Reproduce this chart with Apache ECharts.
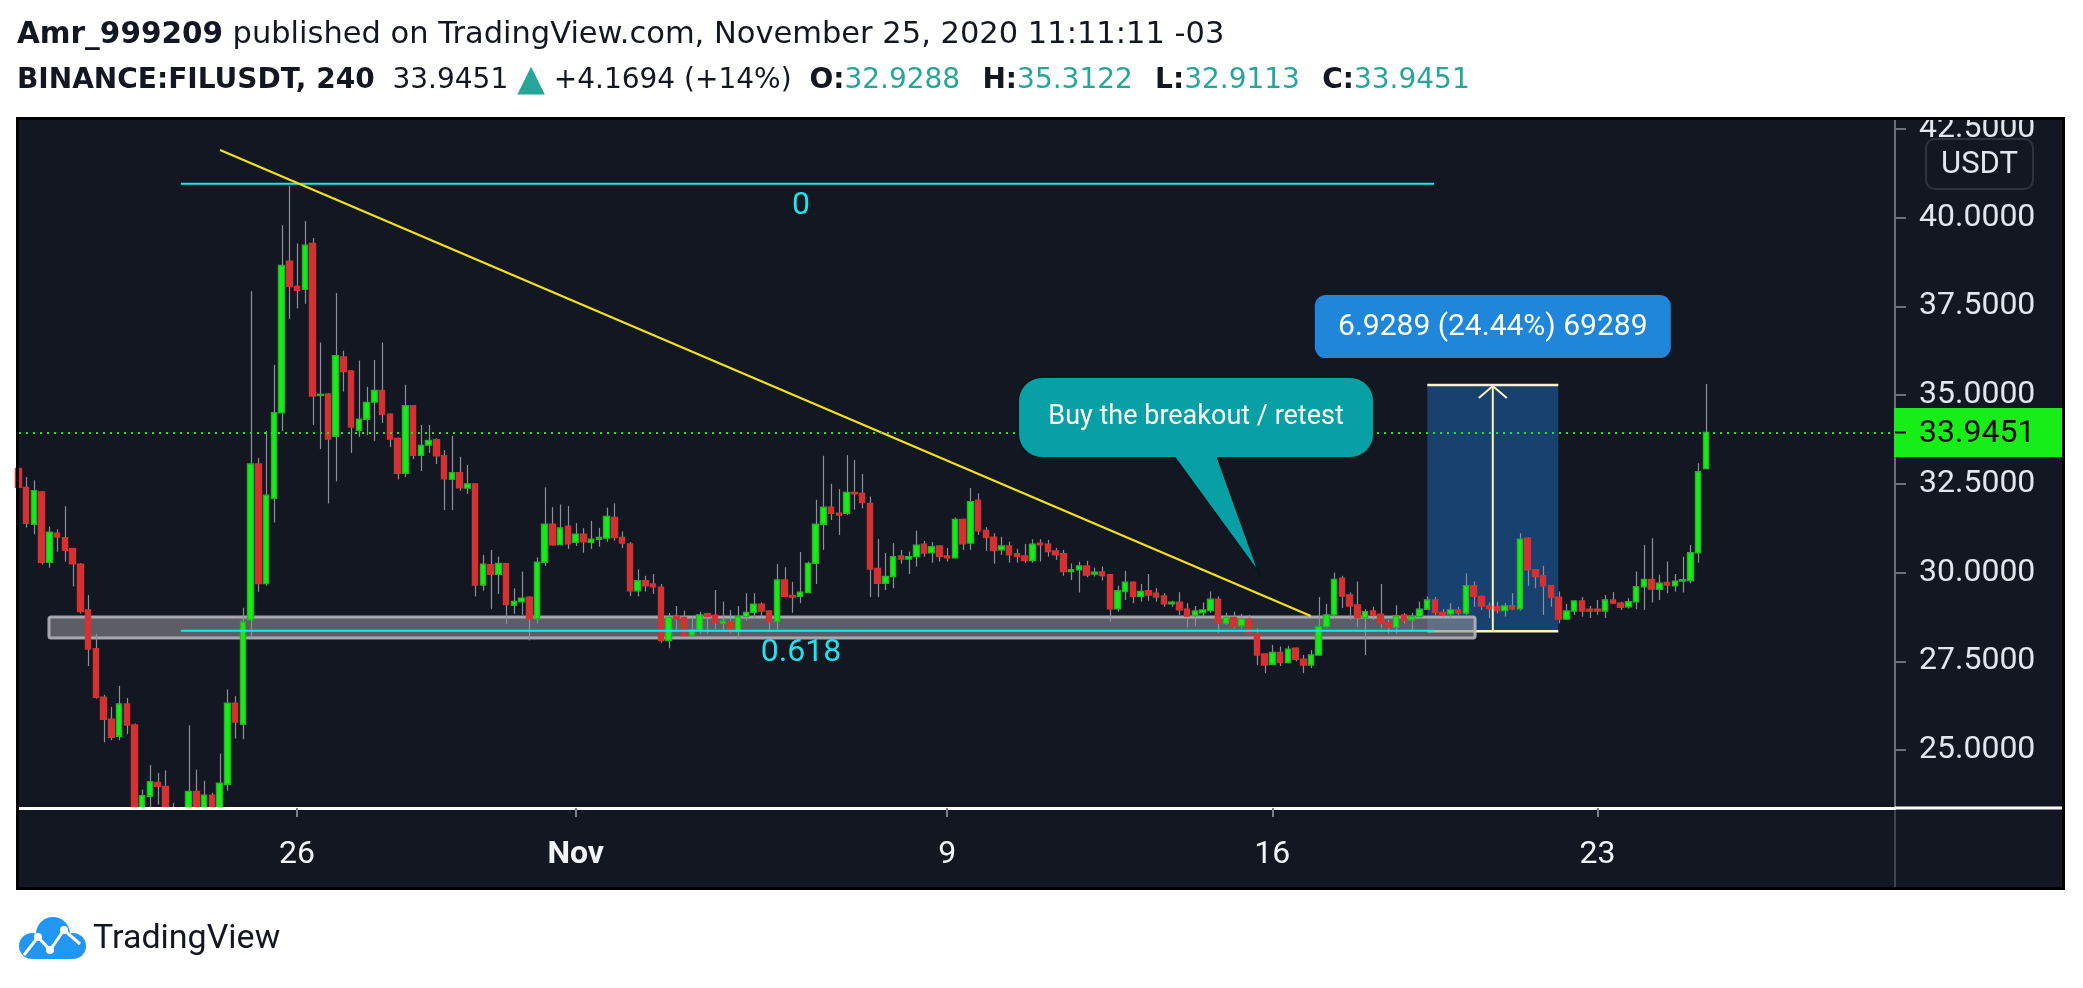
<!DOCTYPE html>
<html>
<head>
<meta charset="utf-8">
<script src="https://cdn.jsdelivr.net/npm/echarts@6.0.0/dist/echarts.min.js"></script>
<style>
html,body{margin:0;padding:0;background:#ffffff;overflow:hidden;}
#c{width:2083px;height:988px;}
</style>
</head>
<body>
<div id="c"></div>
<script>
// ---------------- DATA ----------------
// 4-hour candles, BINANCE:FILUSDT, first candle = 2020-10-20 00:00, x = hours since then
const candleStepHours = 4;
const opens = [32.93,32.40,31.36,32.27,30.29,31.11,30.98,30.67,30.24,28.95,27.86,26.49,25.87,25.39,26.30,25.71,23.00,23.70,24.09,23.98,
22.80,22.60,22.90,23.84,23.00,23.73,23.10,24.04,26.32,25.73,28.67,33.06,29.69,32.09,34.50,38.77,38.06,37.98,39.27,34.99,
35.03,33.84,36.07,35.68,34.01,34.32,34.80,35.13,34.46,33.78,32.80,34.70,33.30,33.59,33.74,33.29,32.63,32.81,32.38,32.50,
29.65,30.22,29.95,30.25,29.08,29.18,29.31,28.70,30.29,31.36,30.79,31.31,30.85,31.08,30.85,30.94,30.97,31.55,30.99,30.81,
29.49,29.77,29.68,29.59,28.09,28.76,28.74,28.24,28.37,28.84,28.80,28.57,28.62,28.34,28.76,28.88,29.11,28.92,28.62,29.79,
29.36,29.33,29.44,30.26,31.36,31.84,31.67,31.67,32.26,32.23,31.95,30.12,29.70,29.89,30.47,30.38,30.45,30.80,30.56,30.75,
30.47,30.42,31.50,30.83,32.04,31.19,31.00,30.64,30.75,30.53,30.47,30.34,30.83,30.80,30.61,30.53,30.03,30.08,30.19,29.96,
30.02,29.94,28.98,29.47,29.73,29.33,29.49,29.42,29.34,29.12,29.17,28.97,28.79,28.87,28.93,29.25,28.57,28.74,28.50,28.69,
28.29,27.71,27.42,27.75,27.47,27.87,27.56,27.40,27.68,28.48,28.81,29.84,29.37,29.09,28.73,28.92,28.83,28.59,28.46,28.81,
28.67,28.76,28.97,29.23,28.88,28.84,28.95,28.86,29.63,29.33,29.06,29.04,28.93,29.07,28.98,30.97,30.08,29.91,29.63,29.31,
28.69,28.92,29.20,28.97,28.97,28.92,29.23,29.14,29.04,29.18,29.60,29.81,29.53,29.72,29.63,29.76,29.77,30.56,32.9288];
const highs = [33.00,32.69,32.60,32.30,31.30,31.22,31.87,30.70,30.27,29.37,28.28,26.56,26.22,26.81,26.47,25.75,23.89,24.58,24.36,24.43,
23.52,23.20,25.70,24.45,24.14,23.80,24.90,26.71,26.52,29.01,37.92,33.23,33.99,35.85,39.78,40.89,39.27,39.90,39.42,36.48,
35.06,37.87,36.25,35.70,35.97,35.23,35.99,36.48,34.48,33.80,35.29,34.72,34.16,34.16,33.78,33.45,33.85,33.26,33.03,32.52,
30.50,30.64,30.45,30.27,29.56,30.03,29.34,30.43,32.40,31.84,31.92,31.88,31.39,31.25,31.46,31.26,31.83,31.95,31.16,30.86,
30.09,29.91,29.96,29.68,28.86,29.06,28.93,28.76,28.90,28.87,29.51,29.18,28.95,29.06,29.42,29.42,29.16,28.94,30.24,30.15,
29.74,30.58,30.31,32.05,33.29,32.50,32.35,33.31,33.17,32.78,32.14,30.95,30.55,30.83,30.64,30.59,31.18,30.89,30.86,30.77,
30.69,31.55,31.52,32.38,32.23,31.28,31.11,31.01,30.87,30.67,30.81,30.94,30.94,30.92,30.69,30.64,30.26,30.31,30.33,30.14,
30.17,29.96,29.63,30.05,29.75,29.68,29.96,29.56,29.42,29.21,29.45,29.14,29.06,29.16,29.47,29.33,28.87,28.90,28.84,28.81,
28.43,27.73,27.96,27.92,27.94,27.89,27.68,27.82,29.31,29.12,30.00,29.91,29.44,29.75,28.97,29.04,29.68,28.67,29.08,28.86,
28.87,29.18,29.33,29.31,28.97,29.14,29.04,29.98,29.75,29.35,29.16,29.18,29.14,29.42,31.11,30.99,30.10,30.19,29.65,29.47,
29.12,29.23,29.31,29.06,29.23,29.37,29.45,29.18,29.28,30.03,30.78,30.97,29.94,30.31,29.96,30.45,30.78,33.08,35.3122];
const lows = [31.87,31.27,31.08,30.23,30.14,30.59,30.31,29.61,28.85,27.37,26.45,25.22,25.28,25.28,25.45,22.80,22.70,23.20,23.47,22.50,
22.20,21.90,22.50,22.60,22.70,22.90,22.80,23.86,25.33,25.31,28.18,29.46,29.63,31.41,33.99,37.15,37.44,37.57,34.16,33.48,
31.95,32.57,35.10,33.37,33.82,33.87,33.71,34.21,33.53,32.63,32.69,33.20,32.86,33.37,33.06,31.76,31.76,32.31,32.22,29.33,
29.49,28.98,29.40,28.55,28.84,28.81,28.09,28.57,30.19,30.76,30.77,30.67,30.75,30.56,30.67,30.73,30.87,30.90,30.69,29.34,
29.33,29.47,29.40,28.03,27.87,28.39,28.21,28.20,28.29,28.29,28.41,28.39,28.29,28.14,28.65,28.71,28.76,28.34,28.39,29.31,
28.87,29.14,29.42,29.68,30.64,31.48,31.06,31.62,31.77,31.81,29.31,29.31,29.51,29.56,30.25,29.96,30.17,30.45,30.28,30.31,
30.31,30.40,30.64,30.64,31.06,30.61,30.25,30.50,30.28,30.28,30.28,30.28,30.31,30.45,30.36,29.91,29.79,29.44,29.87,29.89,
29.78,28.62,28.90,29.23,29.14,29.18,29.21,29.18,29.04,29.04,28.81,28.45,28.50,28.76,28.87,28.29,28.53,28.43,28.43,28.27,
27.40,27.17,27.40,27.37,27.45,27.50,27.17,27.31,27.66,28.43,28.74,29.00,28.67,28.46,27.68,28.67,28.43,28.29,28.29,28.57,
28.37,28.72,28.95,28.81,28.74,28.74,28.81,28.81,29.04,28.95,28.72,28.86,28.76,28.95,28.93,29.63,29.56,28.81,29.04,28.57,
28.67,28.81,28.76,28.72,28.81,28.72,29.12,28.95,28.99,28.97,28.95,29.16,29.23,29.42,29.47,29.44,29.70,30.28,32.9113];
const closes = [32.40,31.39,32.31,30.29,31.14,31.00,30.63,30.25,28.90,27.85,26.49,25.87,25.36,26.30,25.71,23.00,23.72,24.11,23.98,22.80,
22.60,22.90,23.84,23.00,23.73,23.10,24.07,26.32,25.79,28.61,33.06,29.69,32.18,34.50,38.65,38.06,37.95,39.22,34.97,35.02,
33.76,36.11,35.66,34.10,34.32,34.79,35.13,34.46,33.76,32.80,34.70,33.30,33.58,33.72,33.29,32.64,32.81,32.39,32.50,29.65,
30.24,29.95,30.26,29.10,29.19,29.28,28.70,30.29,31.36,30.78,31.26,30.81,31.08,30.87,30.94,30.99,31.58,30.99,30.83,29.49,
29.77,29.63,29.60,28.09,28.74,28.70,28.23,28.39,28.81,28.76,28.59,28.63,28.34,28.76,28.88,29.11,28.92,28.62,29.79,29.33,
29.31,29.45,30.26,31.36,31.84,31.67,31.62,32.26,32.22,31.97,30.10,29.70,29.89,30.45,30.38,30.45,30.77,30.55,30.73,30.45,
30.42,31.50,30.81,32.00,31.18,30.99,30.62,30.75,30.50,30.45,30.34,30.80,30.78,30.59,30.50,30.03,30.08,30.19,29.93,30.01,
29.92,28.98,29.49,29.73,29.33,29.47,29.37,29.31,29.12,29.17,28.95,28.78,28.92,28.95,29.25,28.57,28.74,28.48,28.69,28.29,
27.68,27.40,27.75,27.47,27.84,27.56,27.40,27.68,28.48,28.81,29.81,29.34,29.06,28.73,28.90,28.81,28.57,28.45,28.78,28.65,
28.76,28.97,29.23,28.88,28.81,28.95,28.86,29.63,29.33,29.06,28.99,28.93,29.06,28.98,30.94,30.08,29.89,29.63,29.31,28.69,
28.92,29.20,28.92,28.92,28.92,29.23,29.14,29.02,29.18,29.60,29.81,29.54,29.70,29.65,29.76,29.80,30.56,32.84,33.9451];

const timeTickHours = [144, 288, 480, 648, 816];          // Oct 26, Nov 1, Nov 9, Nov 16, Nov 23
const timeTickLabels = ['26', 'Nov', '9', '16', '23'];
const priceTicks = [25, 27.5, 30, 32.5, 35, 37.5, 40, 42.5];
const priceChange = '+4.1694 (+14%)';
const priceUnit = 'USDT';

// drawings (hours since Oct 20 00:00, price)
const fibLevelNames = ['0', '0.618'];
const fibLevelPrices = [40.952, 28.361];
const fibSpanHours = [84.0, 731.6];
const fibLabelHour = 404.4;
const trendFrom = [104.2, 41.904];
const trendTo = [667.9, 28.778];
const zoneHours = [15.8, 752.8];
const zonePrices = [28.16, 28.75];
const rangeHours = [728.1, 795.8];
const rangePrices = [28.3511, 35.2800];
const calloutText = 'Buy the breakout / retest';
const calloutBoxHours = [516.6, 700.6];
const calloutBoxPrices = [33.227, 35.508];
const calloutTailHours = [597.7, 619.9];
const calloutTip = [641.4, 29.96];

// ---------------- CHART ----------------
const X_MIN = 0.31, X_MAX = 969.8, Y_MIN = 23.371, Y_MAX = 42.746;
const last = opens.length - 1;
const lastPrice = closes[last];
const candleHours = opens.map((_, i) => i * candleStepHours);
const bodyData = opens.map((o, i) => [candleHours[i], o, closes[i], Math.min(o, closes[i]), Math.max(o, closes[i])]);
const wickData = opens.map((o, i) => [candleHours[i], lows[i], highs[i]]);

const UP = '#16ec16', UP_B = '#28b428', DN = '#d43232', WICK = '#8d909a', CYAN = '#1fe4ef', PANEL = '#131722';
const DJ = 'DejaVu Sans', TEAL = '#26a69a', INK = '#131722';

function roundedCallout(x0, y0, x1, y1, r, tl, tr, tip) {
  const pts = [];
  const arc = (cx, cy, a0, a1) => { for (let k = 0; k <= 8; k++) { const a = (a0 + (a1 - a0) * k / 8) * Math.PI / 180; pts.push([cx + r * Math.cos(a), cy + r * Math.sin(a)]); } };
  arc(x0 + r, y0 + r, 180, 270);
  arc(x1 - r, y0 + r, 270, 360);
  arc(x1 - r, y1 - r, 0, 90);
  pts.push([tr, y1]); pts.push(tip); pts.push([tl, y1]);
  arc(x0 + r, y1 - r, 90, 180);
  return pts;
}

const chart = echarts.init(document.getElementById('c'), null, { renderer: 'canvas', width: 2083, height: 988 });

const rs = (w, c, s) => ({ fontFamily: DJ, fontSize: s || 28, fontWeight: w, fill: c });

const gap = '  {s| }';
const line2 = '{b|BINANCE:FILUSDT, 240}  {n|' + lastPrice.toFixed(4) + '} {t|▲} {n|' + priceChange + '}  ' +
  '{b|O:}{g|' + opens[last].toFixed(4) + '}' + gap + '{b|H:}{g|' + highs[last].toFixed(4) + '}' + gap + '{b|L:}{g|' + lows[last].toFixed(4) + '}' + gap + '{b|C:}{g|' + closes[last].toFixed(4) + '}';

const option = {
  animation: false,
  backgroundColor: '#ffffff',
  grid: { left: 19, right: 188, top: 120, bottom: 180, containLabel: false, show: false },
  xAxis: {
    type: 'value', min: X_MIN, max: X_MAX, z: 200,
    axisLine: { show: true, onZero: false, lineStyle: { color: '#ffffff', width: 3 } },
    axisTick: { show: true, customValues: timeTickHours, length: 9, lineStyle: { color: '#7b7e88', width: 2 } },
    axisLabel: {
      customValues: timeTickHours, margin: 31, color: '#f2f4f8', fontSize: 32, fontFamily: 'Roboto',
      formatter: v => { const k = timeTickHours.findIndex(t => Math.abs(t - v) < 0.01); const s = k >= 0 ? timeTickLabels[k] : ''; return s === 'Nov' ? '{b|' + s + '}' : s; },
      rich: { b: { fontWeight: 'bold', fontSize: 32, fontFamily: 'Roboto', color: '#f2f4f8' } }
    },
    splitLine: { show: false }
  },
  yAxis: {
    type: 'value', position: 'right', min: Y_MIN, max: Y_MAX, scale: true, z: 200,
    axisLine: { show: true, lineStyle: { color: '#6c6f7a', width: 2 } },
    axisTick: { show: true, customValues: priceTicks, length: 11, lineStyle: { color: '#6c6f7a', width: 2 } },
    axisLabel: { customValues: priceTicks, formatter: v => v.toFixed(4), color: '#e3e6ee', fontSize: 32, fontFamily: 'Roboto', margin: 24 },
    splitLine: { show: false }
  },
  series: [
    { // measured range (dark blue box)
      type: 'custom', z: 1, silent: true, encode: { x: [0, 1], y: [2, 3] },
      data: [[rangeHours[0], rangeHours[1], rangePrices[0], rangePrices[1]]],
      renderItem: (p, api) => {
        const a = api.coord([api.value(0), api.value(3)]), b = api.coord([api.value(1), api.value(2)]);
        const cx = (a[0] + b[0]) / 2, cream = '#fff2c2';
        return { type: 'group', children: [
          { type: 'rect', shape: { x: a[0], y: a[1], width: b[0] - a[0], height: b[1] - a[1] }, style: { fill: '#19416f' } },
          { type: 'line', shape: { x1: a[0], y1: a[1], x2: b[0], y2: a[1] }, style: { stroke: cream, lineWidth: 2.5 } },
          { type: 'line', shape: { x1: a[0], y1: b[1], x2: b[0], y2: b[1] }, style: { stroke: cream, lineWidth: 2.5 } },
          { type: 'line', shape: { x1: cx, y1: b[1], x2: cx, y2: a[1] }, style: { stroke: cream, lineWidth: 2 } },
          { type: 'polyline', shape: { points: [[cx - 14, a[1] + 13], [cx, a[1] + 1], [cx + 14, a[1] + 13]] }, style: { stroke: cream, lineWidth: 2, fill: null } }
        ] };
      }
    },
    { // support zone
      type: 'custom', z: 1.5, silent: true, encode: { x: [0, 1], y: [2, 3] },
      data: [[zoneHours[0], zoneHours[1], zonePrices[0], zonePrices[1]]],
      renderItem: (p, api) => {
        const a = api.coord([api.value(0), api.value(3)]), b = api.coord([api.value(1), api.value(2)]);
        return { type: 'rect', shape: { x: a[0], y: a[1], width: b[0] - a[0], height: b[1] - a[1], r: 2 },
          style: { fill: 'rgba(140,142,150,0.6)', stroke: 'rgba(178,180,186,0.9)', lineWidth: 3 } };
      }
    },
    { // wicks
      type: 'custom', z: 2, silent: true, encode: { x: 0, y: [1, 2] },
      data: wickData,
      renderItem: (p, api) => {
        const lo = Math.max(api.value(1), Y_MIN), hi = Math.min(api.value(2), Y_MAX);
        if (hi <= lo) return null;
        const a = api.coord([api.value(0), lo]), b = api.coord([api.value(0), hi]);
        const x = Math.round(a[0]) + 0.5;
        if (x < 19) return null;
        return { type: 'line', shape: { x1: x, y1: a[1], x2: x, y2: b[1] }, style: { stroke: WICK, lineWidth: 1.2 } };
      }
    },
    { // bodies
      type: 'candlestick', z: 3, silent: true, clip: true, barWidth: 6,
      encode: { x: 0, y: [1, 2, 3, 4] },
      data: bodyData,
      itemStyle: { color: UP, color0: DN, borderColor: UP_B, borderColor0: DN, borderWidth: 1.4 }
    },
    { // fib levels
      type: 'custom', z: 4, silent: true, encode: { x: [0, 1], y: 2 },
      data: fibLevelPrices.map((pr, i) => [fibSpanHours[0], fibSpanHours[1], pr, i]),
      renderItem: (p, api) => {
        const a = api.coord([api.value(0), api.value(2)]), b = api.coord([api.value(1), api.value(2)]);
        const l = api.coord([fibLabelHour, api.value(2)]);
        return { type: 'group', children: [
          { type: 'line', shape: { x1: a[0], y1: a[1], x2: b[0], y2: b[1] }, style: { stroke: CYAN, lineWidth: 2 } },
          { type: 'text', x: l[0], y: a[1] + 22, style: { text: fibLevelNames[api.value(3)], fill: CYAN, font: '32px Roboto', align: 'center', verticalAlign: 'middle' } }
        ] };
      }
    },
    { // trend line
      type: 'custom', z: 4, silent: true, encode: { x: [0, 2], y: [1, 3] },
      data: [[trendFrom[0], trendFrom[1], trendTo[0], trendTo[1]]],
      renderItem: (p, api) => {
        const a = api.coord([api.value(0), api.value(1)]), b = api.coord([api.value(2), api.value(3)]);
        return { type: 'line', shape: { x1: a[0], y1: a[1], x2: b[0], y2: b[1] }, style: { stroke: '#f2e21a', lineWidth: 2.2 } };
      }
    },
    { // callout
      type: 'custom', z: 5, silent: true, encode: { x: [0, 1], y: [2, 3] },
      data: [[calloutBoxHours[0], calloutBoxHours[1], calloutBoxPrices[0], calloutBoxPrices[1], calloutTailHours[0], calloutTailHours[1], calloutTip[0], calloutTip[1]]],
      renderItem: (p, api) => {
        const a = api.coord([api.value(0), api.value(3)]), b = api.coord([api.value(1), api.value(2)]);
        const tl = api.coord([api.value(4), api.value(2)])[0], tr = api.coord([api.value(5), api.value(2)])[0];
        const tip = api.coord([api.value(6), api.value(7)]);
        const pts = roundedCallout(a[0], a[1], b[0], b[1], 24, tl, tr, tip);
        return { type: 'group', children: [
          { type: 'polygon', shape: { points: pts }, style: { fill: '#08a0a5', stroke: '#07181c', lineWidth: 2 } },
          { type: 'text', x: (a[0] + b[0]) / 2, y: (a[1] + b[1]) / 2, style: { text: calloutText, fill: '#ffffff', font: '27px Roboto', align: 'center', verticalAlign: 'middle' } }
        ] };
      }
    },
    { // range label
      type: 'custom', z: 5, silent: true, encode: { x: [0, 1], y: [2, 3] },
      data: [[rangeHours[0], rangeHours[1], rangePrices[0], rangePrices[1]]],
      renderItem: (p, api) => {
        const lo = api.value(2), hi = api.value(3);
        const d = hi - lo;
        const txt = d.toFixed(4) + ' (' + (d / lo * 100).toFixed(2) + '%) ' + Math.round(d * 10000);
        const a = api.coord([(api.value(0) + api.value(1)) / 2, hi]);
        return { type: 'group', children: [
          { type: 'rect', shape: { x: a[0] - 178, y: a[1] - 90, width: 356, height: 63, r: 11 }, style: { fill: '#2086da' } },
          { type: 'text', x: a[0], y: a[1] - 58, style: { text: txt, fill: '#ffffff', font: '30px Roboto', align: 'center', verticalAlign: 'middle' } }
        ] };
      }
    },
    { // last price line
      type: 'line', z: 10, silent: true, data: [], symbol: 'none',
      markLine: {
        silent: true, symbol: ['none', 'none'], animation: false,
        data: [{ yAxis: lastPrice }],
        lineStyle: { color: '#1ee61e', type: [2, 5], width: 2 },
        label: { show: false }
      }
    },
    { // last price axis label
      type: 'custom', z: 210, silent: true, encode: { x: 0, y: 1 },
      data: [[X_MAX, lastPrice]],
      renderItem: (p, api) => {
        const a = api.coord([api.value(0), api.value(1)]);
        return { type: 'group', children: [
          { type: 'rect', shape: { x: a[0] - 1, y: a[1] - 24.5, width: 168, height: 49 }, style: { fill: '#17ee17' } },
          { type: 'line', shape: { x1: a[0], y1: a[1], x2: a[0] + 11, y2: a[1] }, style: { stroke: '#0a0a0a', lineWidth: 2 } },
          { type: 'text', x: a[0] + 24, y: a[1] + 1, style: { text: api.value(1).toFixed(4), fill: '#0a0a0a', font: '32px Roboto', verticalAlign: 'middle' } }
        ] };
      }
    }
  ],
  graphic: [
    { type: 'rect', z: -100, silent: true, shape: { x: 19, y: 120, width: 2043, height: 767 }, style: { fill: PANEL } },
    { type: 'rect', z: 150, silent: true, shape: { x: 19, y: 809.5, width: 1875, height: 77.5 }, style: { fill: PANEL } },
    { type: 'rect', z: 201, silent: true, shape: { x: 1895, y: 806.5, width: 167, height: 3 }, style: { fill: '#ffffff' } },
    { type: 'line', z: 201, silent: true, shape: { x1: 1895, y1: 810, x2: 1895, y2: 887 }, style: { stroke: '#50535e', lineWidth: 1.5 } },
    { type: 'rect', z: 220, silent: true, shape: { x: 1880, y: 80, width: 203, height: 37 }, style: { fill: '#ffffff' } },
    { type: 'rect', z: 230, silent: true, shape: { x: 17.5, y: 118.5, width: 2046, height: 770 }, style: { fill: null, stroke: '#000000', lineWidth: 3 } },
    { type: 'rect', z: 230, silent: true, shape: { x: 1926, y: 139, width: 107, height: 50, r: 9 }, style: { fill: PANEL, stroke: '#2f333e', lineWidth: 2 } },
    { type: 'text', z: 231, silent: true, x: 1979.5, y: 165, style: { text: priceUnit, fill: '#e3e6ee', font: '31px Roboto', align: 'center', verticalAlign: 'middle' } },
    { type: 'text', z: 10, silent: true, x: 17, y: 35, style: {
      text: '{b|Amr_999209} {n|published on TradingView.com, November 25, 2020 11:11:11 -03}', verticalAlign: 'middle',
      fontFamily: DJ, fontSize: 30, fill: INK,
      rich: { b: rs('bold', INK, 29.5), n: rs('normal', INK, 30.5) } } },
    { type: 'text', z: 10, silent: true, x: 17, y: 81, style: {
      text: line2, verticalAlign: 'middle', fontFamily: DJ, fontSize: 28, fill: INK,
      rich: { b: rs('bold', INK), n: rs('normal', INK), t: rs('normal', TEAL, 36), g: rs('normal', TEAL), s: rs('normal', INK, 14) } } },
    { type: 'group', z: 10, silent: true, children: [
      { type: 'circle', shape: { cx: 53, cy: 934, r: 17 }, style: { fill: '#2196f3' } },
      { type: 'circle', shape: { cx: 32, cy: 946, r: 13 }, style: { fill: '#2196f3' } },
      { type: 'circle', shape: { cx: 73, cy: 946, r: 13 }, style: { fill: '#2196f3' } },
      { type: 'rect', shape: { x: 32, y: 940, width: 41, height: 19 }, style: { fill: '#2196f3' } },
      { type: 'polyline', shape: { points: [[24, 955], [38, 937], [50, 950], [64, 930], [80, 944]] }, style: { stroke: '#ffffff', lineWidth: 3, fill: null } },
      { type: 'circle', shape: { cx: 38, cy: 937, r: 4 }, style: { fill: '#ffffff' } },
      { type: 'circle', shape: { cx: 50, cy: 950, r: 4 }, style: { fill: '#ffffff' } },
      { type: 'circle', shape: { cx: 64, cy: 930, r: 4 }, style: { fill: '#ffffff' } }
    ] },
    { type: 'text', z: 10, silent: true, x: 93, y: 939, style: { text: 'TradingView', fill: INK, font: '34px Roboto', verticalAlign: 'middle' } }
  ]
};
chart.setOption(option);
</script>
</body>
</html>
